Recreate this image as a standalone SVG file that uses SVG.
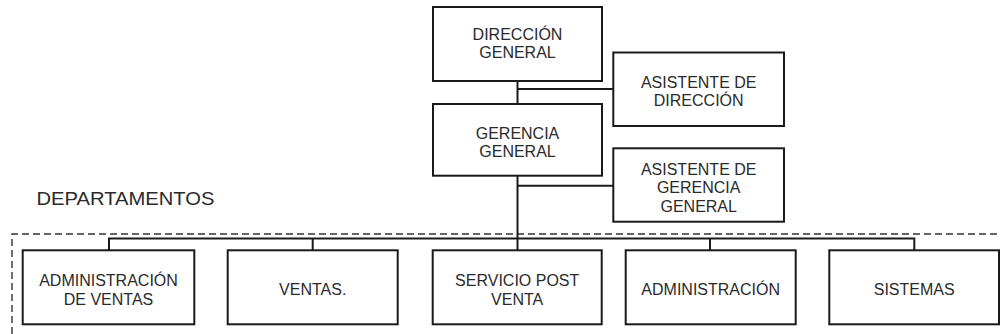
<svg xmlns="http://www.w3.org/2000/svg" width="1001" height="334" viewBox="0 0 1001 334">
<style>
.box{fill:#fff;stroke:#1a1a1a;stroke-width:2}
.t{font-family:"Liberation Sans",Arial,sans-serif;font-size:16px;fill:#2a2a2a;text-anchor:middle}
.ln{fill:none;stroke:#1a1a1a;stroke-width:2}
.dash{fill:none;stroke:#333;stroke-width:1.4;stroke-dasharray:7 4}
</style>
<rect width="1001" height="334" fill="#fff"/>
<path class="dash" d="M12,334 V234 H1001"/>
<text x="36.5" y="205" font-family="'Liberation Sans',Arial,sans-serif" font-size="18.5" fill="#2a2a2a" textLength="178" lengthAdjust="spacingAndGlyphs">DEPARTAMENTOS</text>
<g id="connectors">
<path class="ln" d="M517.5,81 V250"/>
<path class="ln" d="M517.5,89 H613"/>
<path class="ln" d="M517.5,185.7 H613"/>
<path class="ln" d="M109,250 V238.5 H914.3 V250"/>
<path class="ln" d="M312.7,238.5 V250"/>
<path class="ln" d="M710,238.5 V250"/>
</g>
<g id="direccion-general">
<rect class="box" x="433" y="7" width="169" height="74"/>
<text class="t" x="517.5" y="40">DIRECCIÓN</text>
<text class="t" x="517.5" y="58.3">GENERAL</text>
</g>
<g id="asistente-direccion">
<rect class="box" x="613.3" y="52.5" width="170.7" height="73.5"/>
<text class="t" x="698.7" y="88.3">ASISTENTE DE</text>
<text class="t" x="698.7" y="106">DIRECCIÓN</text>
</g>
<g id="gerencia-general">
<rect class="box" x="433" y="104" width="169" height="71.7"/>
<text class="t" x="517.5" y="139.3">GERENCIA</text>
<text class="t" x="517.5" y="157.3">GENERAL</text>
</g>
<g id="asistente-gerencia">
<rect class="box" x="613.3" y="148.3" width="170.7" height="73.4"/>
<text class="t" x="698.7" y="175">ASISTENTE DE</text>
<text class="t" x="698.7" y="193.3">GERENCIA</text>
<text class="t" x="698.7" y="211.7">GENERAL</text>
</g>
<g id="admin-ventas">
<rect class="box" x="22.7" y="250.3" width="171.6" height="74"/>
<text class="t" x="108.5" y="286">ADMINISTRACIÓN</text>
<text class="t" x="108.5" y="305">DE VENTAS</text>
</g>
<g id="ventas">
<rect class="box" x="227.7" y="250.3" width="170" height="74"/>
<text class="t" x="312.7" y="295">VENTAS.</text>
</g>
<g id="servicio-post-venta">
<rect class="box" x="432.7" y="250.3" width="169" height="74"/>
<text class="t" x="517.2" y="286">SERVICIO POST</text>
<text class="t" x="517.2" y="305">VENTA</text>
</g>
<g id="administracion">
<rect class="box" x="625.7" y="250.3" width="170" height="74"/>
<text class="t" x="710.7" y="295">ADMINISTRACIÓN</text>
</g>
<g id="sistemas">
<rect class="box" x="829.3" y="250.3" width="169.7" height="74"/>
<text class="t" x="914.2" y="295">SISTEMAS</text>
</g>
</svg>
